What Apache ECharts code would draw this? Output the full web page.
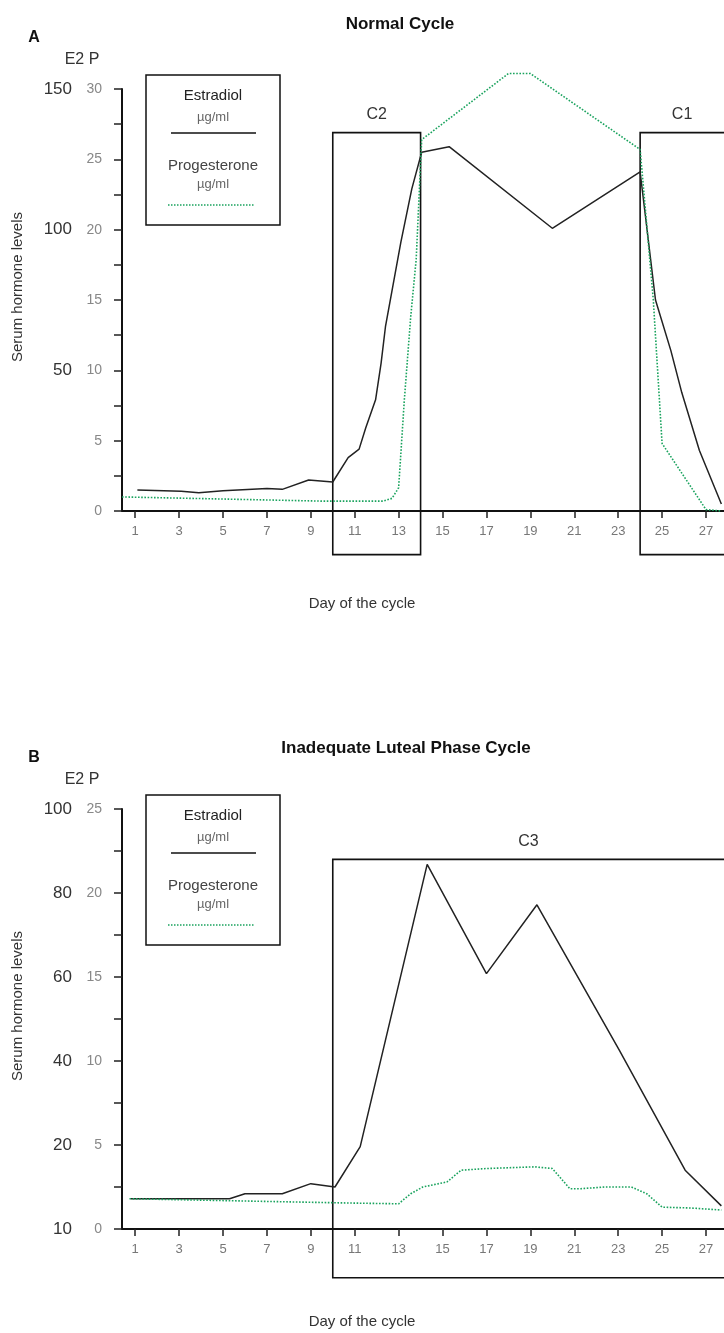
<!DOCTYPE html>
<html>
<head>
<meta charset="utf-8">
<script src="https://cdn.jsdelivr.net/npm/echarts@6/dist/echarts.min.js"></script>
<style>
  html, body { margin: 0; padding: 0; background: #fff; }
  #main { width: 724px; height: 1333px; }
</style>
</head>
<body>
<div id="main"></div>
<script>
var FONT = '"Liberation Sans", Arial, sans-serif';

// x ticks, shared by both panels
var dayTicks = [1, 3, 5, 7, 9, 11, 13, 15, 17, 19, 21, 23, 25, 27];

// tick labels of the outer (estradiol) scales
var e2LabelsA = ['', '50', '100', '150'];
var e2LabelsB = ['10', '20', '40', '60', '80', '100'];

// panel A: normal cycle, [day, value]
var estradiolA = [
  [1.1, 7.5], [3.1, 7.0], [3.9, 6.5], [5.0, 7.2], [7.0, 8.0], [7.7, 7.7],
  [8.9, 11.0], [10.0, 10.3], [10.7, 19], [11.2, 22], [11.5, 29.5],
  [11.95, 39.5], [12.2, 52.5], [12.4, 65.5], [13.1, 95.5], [13.6, 114.5],
  [14.05, 127.5], [15.3, 129.5], [20.0, 100.5], [24.0, 120.5], [24.7, 75],
  [25.4, 57], [25.9, 42], [26.7, 21.5], [27.7, 2.5]
];
var progesteroneA = [
  [0.4, 1.0], [5.0, 0.85], [9.6, 0.7], [12.3, 0.7], [12.7, 0.9], [13.0, 1.65],
  [13.26, 7.9], [13.55, 13.8], [13.8, 17.9], [14.05, 26.4], [18.0, 31.1],
  [19.0, 31.1], [24.0, 25.7], [24.6, 15.0], [25.0, 4.8], [27.0, 0.1], [27.7, 0]
];

// panel B: inadequate luteal phase
var estradiolB = [
  [0.8, 7.2], [5.3, 7.2], [6.0, 8.4], [7.7, 8.4], [9.0, 10.8], [10.1, 10.0],
  [11.25, 19.6], [14.3, 86.8], [17.0, 60.8], [19.3, 77.2], [23.05, 42.6],
  [26.05, 14.0], [27.7, 5.5]
];
var progesteroneB = [
  [0.74, 1.8], [10.6, 1.55], [13.0, 1.5], [13.55, 2.1], [14.1, 2.5], [15.2, 2.8],
  [15.85, 3.5], [17.0, 3.6], [19.2, 3.7], [20.0, 3.6], [20.8, 2.4], [21.3, 2.4],
  [22.4, 2.5], [23.6, 2.5], [24.3, 2.1], [25.0, 1.3], [26.3, 1.25], [27.7, 1.13]
];

// boxed day ranges (progesterone units for top/bottom)
var boxes = [
  { name: 'C2', panel: 0, from: 10, to: 14, top: 26.9, bottom: -3.1 },
  { name: 'C1', panel: 0, from: 24, to: 28.6, top: 26.9, bottom: -3.1 },
  { name: 'C3', panel: 1, from: 10, to: 28.6, top: 22.0, bottom: -2.9 }
];

var chart = echarts.init(document.getElementById('main'), null, { renderer: 'canvas' });

function xAxisFor(grid) {
  return {
    gridIndex: grid, type: 'value', min: 0.4, max: 27.82,
    axisLine: { show: true, onZero: false, lineStyle: { color: '#111', width: 2 } },
    axisTick: { show: true, length: 7, customValues: dayTicks, lineStyle: { color: '#222', width: 1.5 } },
    axisLabel: { customValues: dayTicks, color: '#777', fontSize: 13, margin: 14, fontFamily: FONT },
    splitLine: { show: false }
  };
}

function pAxis(grid, max) {
  return {
    gridIndex: grid, type: 'value', position: 'left', min: 0, max: max, interval: 2.5,
    axisLine: { show: true, onZero: false, lineStyle: { color: '#111', width: 2 } },
    axisTick: { show: true, length: 8, lineStyle: { color: '#222', width: 1.5 } },
    axisLabel: {
      color: '#888', fontSize: 14, margin: 20, fontFamily: FONT,
      formatter: function (v) { return v % 5 === 0 ? String(v) : ''; }
    },
    splitLine: { show: false }
  };
}

function e2Axis(grid, max, interval, labels) {
  return {
    gridIndex: grid, type: 'value', position: 'left', min: 0, max: max, interval: interval,
    axisLine: { show: false }, axisTick: { show: false },
    axisLabel: {
      color: '#333', fontSize: 17, margin: 50, fontFamily: FONT,
      formatter: function (v, i) { return labels[i] || ''; }
    },
    splitLine: { show: false }
  };
}

function lineSeries(x, y, data, green) {
  return {
    type: 'line', xAxisIndex: x, yAxisIndex: y, data: data,
    showSymbol: false, clip: false, silent: true,
    lineStyle: green
      ? { color: '#1aa35e', width: 1.6, type: 'dotted' }
      : { color: '#222', width: 1.5 }
  };
}

var option = {
  animation: false,
  backgroundColor: '#fff',
  textStyle: { fontFamily: FONT },
  grid: [
    { left: 122, right: 0, top: 89, height: 422 },
    { left: 122, right: 0, top: 809, height: 420 }
  ],
  xAxis: [xAxisFor(0), xAxisFor(1)],
  yAxis: [
    e2Axis(0, 150, 50, e2LabelsA),
    pAxis(0, 30),
    e2Axis(1, 100, 20, e2LabelsB),
    pAxis(1, 25)
  ],
  series: [
    lineSeries(0, 0, estradiolA, false),
    lineSeries(0, 1, progesteroneA, true),
    lineSeries(1, 2, estradiolB, false),
    lineSeries(1, 3, progesteroneB, true)
  ]
};
chart.setOption(option);

// annotations
function txt(x, y, s, size, color, bold, rot) {
  return {
    type: 'text', x: x, y: y, rotation: rot || 0, silent: true,
    style: {
      text: s, fill: color, align: 'center', verticalAlign: 'middle',
      font: (bold ? 'bold ' : '') + size + 'px ' + FONT
    }
  };
}

function legendBox(dy) {
  return [
    { type: 'rect', shape: { x: 146, y: 75 + dy, width: 134, height: 150 },
      style: { fill: 'none', stroke: '#111', lineWidth: 1.5 } },
    txt(213, 96 + dy, 'Estradiol', 15, '#222'),
    txt(213, 117 + dy, 'µg/ml', 13, '#666'),
    { type: 'line', shape: { x1: 171, y1: 133 + dy, x2: 256, y2: 133 + dy },
      style: { stroke: '#111', lineWidth: 1.5 } },
    txt(213, 166 + dy, 'Progesterone', 15, '#444'),
    txt(213, 184 + dy, 'µg/ml', 13, '#666'),
    { type: 'line', shape: { x1: 168, y1: 205 + dy, x2: 255, y2: 205 + dy },
      style: { stroke: '#1aa35e', lineWidth: 1.5, lineDash: [1.5, 1.5] } }
  ];
}

var graphics = [
  txt(400, 24, 'Normal Cycle', 17, '#111', true),
  txt(406, 748, 'Inadequate Luteal Phase Cycle', 17, '#111', true),
  txt(34, 38, 'A', 16, '#111', true),
  txt(34, 758, 'B', 16, '#111', true),
  txt(82, 60, 'E2 P', 16, '#333'),
  txt(82, 780, 'E2 P', 16, '#333'),
  txt(18, 287, 'Serum hormone levels', 15, '#333', false, Math.PI / 2),
  txt(18, 1006, 'Serum hormone levels', 15, '#333', false, Math.PI / 2),
  txt(362, 604, 'Day of the cycle', 15, '#333'),
  txt(362, 1322, 'Day of the cycle', 15, '#333')
].concat(legendBox(0), legendBox(720));

boxes.forEach(function (b) {
  var finder = { xAxisIndex: b.panel, yAxisIndex: b.panel * 2 + 1 };
  var p1 = chart.convertToPixel(finder, [b.from, b.top]);
  var p2 = chart.convertToPixel(finder, [b.to, b.bottom]);
  graphics.push({
    type: 'rect', silent: true,
    shape: { x: p1[0], y: p1[1], width: p2[0] - p1[0], height: p2[1] - p1[1] },
    style: { fill: 'none', stroke: '#111', lineWidth: 1.6 }
  });
  var right = Math.min(p2[0], 724);
  graphics.push(txt((p1[0] + right) / 2, p1[1] - 18, b.name, 16, '#333'));
});

chart.setOption({ graphic: graphics });
</script>
</body>
</html>
